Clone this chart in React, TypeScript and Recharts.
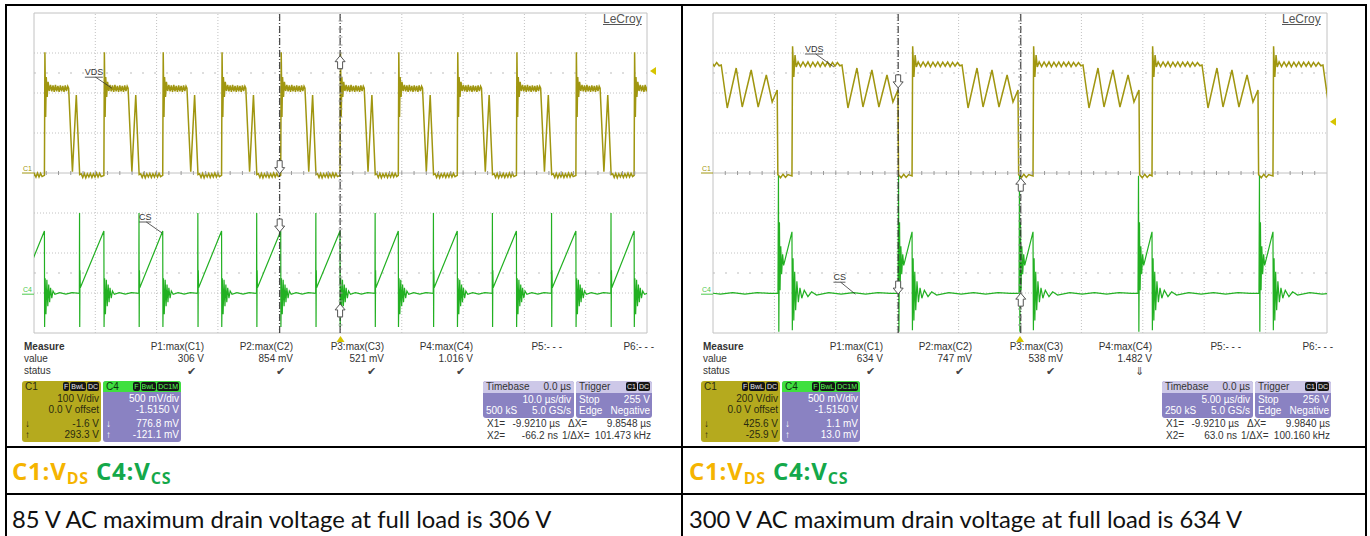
import React from 'react';
import { ComposedChart, Line, XAxis, YAxis, ReferenceLine, ReferenceDot } from 'recharts';

// ---- 85 V AC shot: 10 us/div, C1 100 V/div, C4 500 mV/div (offset -1.515 V) ----
// turn-off edges (VDS rising), us
const lowEdges = [-57.93, -48.3, -38.6, -29.0, -19.4, -9.75, -0.08, 9.43, 19.05, 28.7, 38.4, 47.9];
// one switching cycle: offsets from the edge (us) and volts
const lowVdsOffs = [
  0, 0.08, 0.2, 0.3, 0.45, 0.6, 0.8,
  1.0, 1.2, 1.4, 1.6, 1.8, 2.0, 2.2, 2.4, 2.6, 2.8, 3.0, 3.2, 3.4, 3.6, 3.8,
  3.95, 4.57, 5.2, 5.75,
  6.0, 6.25, 6.5, 6.75, 7.0, 7.25, 7.5, 7.75, 8.0, 8.25, 8.5, 8.75, 9.0, 9.25,
];
const lowVdsVals = [
  -6, 302, 140, 240, 190, 228, 205,
  220, 204, 219, 203, 220, 204, 218, 203, 219, 204, 218, 203, 219, 205, 217,
  212, 3, 195, -4,
  -2, -11, -1, -12, -2, -10, -1, -11, -2, -10, 0, -10, -1, -9,
];
const lowCsOffs = [0, 0.03, 0.12, 0.25, 0.4, 0.55, 0.7, 0.85, 1.0, 1.2, 1.4, 1.7, 2.5, 3.5, 4.5, 5.7, 5.73, 5.76, 5.8, 5.85];
const lowCsVals = [0.79, -0.41, 0.2, -0.25, 0.18, -0.15, 0.12, -0.1, 0.08, -0.05, 0.04, 0.0, 0.02, 0.0, 0.02, 0.01, 1.016, -0.41, 0.3, 0.08];

// ---- 300 V AC shot: 5 us/div, C1 200 V/div, C4 500 mV/div ----
const highEdges = [-28.4, -18.57, -8.79, 1.06, 10.75, 20.6];
const highVdsOffs = [
  0, 0.05, 0.15, 0.25, 0.35,
  0.5, 0.7, 0.9, 1.1, 1.3, 1.5, 1.7, 1.9, 2.1, 2.3, 2.5, 2.7, 2.9, 3.1, 3.3, 3.5, 3.7, 3.9,
  4.07, 4.56, 5.29, 5.78, 6.51, 7.08, 7.74, 8.22, 8.63,
  8.68, 8.9, 9.1, 9.3, 9.5,
];
const highVdsVals = [
  -15, 634, 480, 590, 530,
  556, 532, 555, 533, 556, 531, 554, 533, 555, 532, 554, 534, 555, 532, 553, 534, 552, 536,
  540, 325, 525, 330, 515, 330, 490, 355, 415,
  -8, -24, -6, -22, -8,
];
const highCsOffs = [-1.14, -1.1, -1.07, -1.02, -0.97, -0.91, -0.84, -0.76, -0.68, -0.58, 0, 0.03, 0.09, 0.15, 0.22, 0.3, 0.4, 0.52, 0.65, 0.8, 1.0, 1.3, 1.6, 2.0, 3.0, 4.0, 5.0, 6.0, 7.0, 8.0];
const highCsVals = [0.01, 1.48, -0.47, 0.9, 0.05, 0.6, 0.25, 0.5, 0.36, 0.42, 0.78, -0.45, 0.45, -0.33, 0.28, -0.2, 0.16, -0.1, 0.08, -0.05, 0.05, -0.03, 0.03, -0.01, 0.02, 0.0, 0.02, 0.0, 0.02, 0.01];

const headers = ['P1:max(C1)', 'P2:max(C2)', 'P3:max(C3)', 'P4:max(C4)', 'P5:- - -', 'P6:- - -'];

const lowValues = ['306 V', '854 mV', '521 mV', '1.016 V', '', ''];
const lowStatus = ['\u2714', '\u2714', '\u2714', '\u2714', '', ''];
const lowC1Box = ['100 V/div', '0.0 V offset', '-1.6 V', '293.3 V'];
const lowC4Box = ['500 mV/div', '-1.5150 V', '776.8 mV', '-121.1 mV'];
const lowTimebase = ['0.0 \u00b5s', '10.0 \u00b5s/div', '500 kS', '5.0 GS/s'];
const lowTrigger = ['255 V', 'Negative'];
const lowCursorText = ['-9.9210 \u00b5s', '9.8548 \u00b5s', '-66.2 ns', '101.473 kHz'];

const highValues = ['634 V', '747 mV', '538 mV', '1.482 V', '', ''];
const highStatus = ['\u2714', '\u2714', '\u2714', '\u21d3', '', ''];
const highC1Box = ['200 V/div', '0.0 V offset', '425.6 V', '-25.9 V'];
const highC4Box = ['500 mV/div', '-1.5150 V', '1.1 mV', '13.0 mV'];
const highTimebase = ['0.0 \u00b5s', '5.00 \u00b5s/div', '250 kS', '5.0 GS/s'];
const highTrigger = ['256 V', 'Negative'];
const highCursorText = ['-9.9210 \u00b5s', '9.9840 \u00b5s', '63.0 ns', '100.160 kHz'];

type Pt = { t: number; v: number };
const buildTrace = (edges: number[], offs: number[], vals: number[]): Pt[] =>
  edges.flatMap((e) => offs.map((o, i) => ({ t: Math.round((e + o) * 1000) / 1000, v: vals[i] })));

const lowScope = {
  tMin: -50, tMax: 50, plotW: 613,
  c1Dom: [-400, 400], c4Dom: [-0.485, 3.515],
  vds: buildTrace(lowEdges, lowVdsOffs, lowVdsVals),
  cs: buildTrace(lowEdges, lowCsOffs, lowCsVals),
  x1: -9.921, x2: -0.0662,
  c1Read: [-1.6, 293.3], c4Read: [0.7768, -0.1211],
  trig: 255,
  vdsTag: { t: -37.3, v: 212, dx: -27, dy: -11 },
  csTag: { t: -29.1, v: 0.765, dx: -23, dy: -11 },
};

const highScope = {
  tMin: -25, tMax: 25, plotW: 614,
  c1Dom: [-800, 800], c4Dom: [-0.485, 3.515],
  vds: buildTrace(highEdges, highVdsOffs, highVdsVals),
  cs: buildTrace(highEdges, highCsOffs, highCsVals),
  x1: -9.921, x2: 0.063,
  c1Read: [425.6, -25.9], c4Read: [0.0011, 0.013],
  trig: 256,
  vdsTag: { t: -15.15, v: 530, dx: -29, dy: -13 },
  csTag: { t: -13.4, v: 0, dx: -22, dy: -12 },
};

const W = 680;
const H = 345;
const C1_COLOR = '#a09610';
const C4_COLOR = '#22b022';
const GRID = '#c2c2c2';

const arrow = (dir: 'up' | 'down') => (p: any) => {
  const { cx, cy } = p;
  const s = dir === 'down' ? -1 : 1;
  const pts = [
    [cx, cy], [cx - 5, cy + 6 * s], [cx - 2.5, cy + 6 * s], [cx - 2.5, cy + 13 * s],
    [cx + 2.5, cy + 13 * s], [cx + 2.5, cy + 6 * s], [cx + 5, cy + 6 * s],
  ].map((q) => q.join(',')).join(' ');
  return <polygon points={pts} fill="#fff" stroke="#555" strokeWidth={1} />;
};

const tag = (label: string, dx: number, dy: number, w: number) => (p: any) => {
  const { cx, cy } = p;
  return (
    <g>
      <line x1={cx + dx + w * 0.6} y1={cy + dy} x2={cx} y2={cy} stroke="#333" strokeWidth={0.8} />
      <line x1={cx + dx} y1={cy + dy} x2={cx + dx + w} y2={cy + dy} stroke="#333" strokeWidth={0.8} />
      <text x={cx + dx} y={cy + dy - 2} fontSize={9} fill="#333" fontFamily="Liberation Sans, Arial">{label}</text>
    </g>
  );
};

const chanLabel = (label: string, color: string) => (p: any) => (
  <g>
    <line x1={p.cx - 12} y1={p.cy} x2={p.cx} y2={p.cy} stroke={color} strokeWidth={1} />
    <text x={p.cx - 11} y={p.cy - 2} fontSize={7} fill={color} fontFamily="Liberation Sans, Arial">{label}</text>
  </g>
);

function Scope({ s }: { s: typeof lowScope }) {
  const divT = (s.tMax - s.tMin) / 10;
  const divV = (s.c1Dom[1] - s.c1Dom[0]) / 8;
  const xGrid = Array.from({ length: 11 }, (_, i) => s.tMin + i * divT);
  const yGrid = Array.from({ length: 9 }, (_, i) => s.c1Dom[0] + i * divV);
  const hTicks = Array.from({ length: 49 }, (_, i) => s.tMin + ((i + 1) * divT) / 5);
  const vTicks = Array.from({ length: 39 }, (_, i) => s.c1Dom[0] + ((i + 1) * divV) / 5);
  const edgeX = (t: number) => t === s.tMin || t === s.tMax;
  const edgeY = (v: number) => v === s.c1Dom[0] || v === s.c1Dom[1];
  return (
    <ComposedChart
      width={W}
      height={H}
      margin={{ top: 13, left: 34, right: W - 34 - s.plotW, bottom: H - 13 - 320 }}
    >
      <XAxis type="number" dataKey="t" domain={[s.tMin, s.tMax]} allowDataOverflow hide />
      <YAxis yAxisId="c1" type="number" domain={s.c1Dom} allowDataOverflow hide />
      <YAxis yAxisId="c4" type="number" domain={s.c4Dom} allowDataOverflow hide />

      {xGrid.map((t) => (
        <ReferenceLine key={'gx' + t} yAxisId="c1" x={t} stroke={GRID}
          strokeDasharray={edgeX(t) ? undefined : '1 2'} />
      ))}
      {yGrid.map((v) => (
        <ReferenceLine key={'gy' + v} yAxisId="c1" y={v} stroke={GRID}
          strokeDasharray={edgeY(v) || v === 0 ? undefined : '1 2'} />
      ))}
      <ReferenceLine yAxisId="c1" y={divV * 2.5} stroke="#bdbdbd" strokeDasharray="2 10" />
      <ReferenceLine yAxisId="c1" y={-divV * 2.5} stroke="#bdbdbd" strokeDasharray="2 10" />
      {hTicks.map((t) => (
        <ReferenceDot key={'ht' + t} yAxisId="c1" x={t} y={0} r={0} ifOverflow="visible"
          shape={(p: any) => <line x1={p.cx} x2={p.cx} y1={p.cy - 2} y2={p.cy + 2} stroke="#9a9a9a" />} />
      ))}
      {vTicks.map((v) => (
        <ReferenceDot key={'vt' + v} yAxisId="c1" x={0} y={v} r={0} ifOverflow="visible"
          shape={(p: any) => <line x1={p.cx - 2} x2={p.cx + 2} y1={p.cy} y2={p.cy} stroke="#9a9a9a" />} />
      ))}

      <Line data={s.vds} dataKey="v" yAxisId="c1" type="linear" stroke={C1_COLOR} strokeWidth={1.5}
        dot={false} isAnimationActive={false} />
      <Line data={s.cs} dataKey="v" yAxisId="c4" type="linear" stroke={C4_COLOR} strokeWidth={1.2}
        dot={false} isAnimationActive={false} />

      <ReferenceLine yAxisId="c1" x={s.x1} stroke="#333" strokeWidth={1.1} strokeDasharray="7 2 1 2" />
      <ReferenceLine yAxisId="c1" x={s.x2} stroke="#333" strokeWidth={1.1} strokeDasharray="7 2 1 2" />

      <ReferenceDot yAxisId="c1" x={s.x1} y={s.c1Read[0]} r={0} ifOverflow="visible" shape={arrow('down')} />
      <ReferenceDot yAxisId="c1" x={s.x2} y={s.c1Read[1]} r={0} ifOverflow="visible" shape={arrow('up')} />
      <ReferenceDot yAxisId="c4" x={s.x1} y={s.c4Read[0]} r={0} ifOverflow="visible" shape={arrow('down')} />
      <ReferenceDot yAxisId="c4" x={s.x2} y={s.c4Read[1]} r={0} ifOverflow="visible" shape={arrow('up')} />

      <ReferenceDot yAxisId="c1" x={s.vdsTag.t} y={s.vdsTag.v} r={0} ifOverflow="visible"
        shape={tag('VDS', s.vdsTag.dx, s.vdsTag.dy, 18)} />
      <ReferenceDot yAxisId="c4" x={s.csTag.t} y={s.csTag.v} r={0} ifOverflow="visible"
        shape={tag('CS', s.csTag.dx, s.csTag.dy, 12)} />

      <ReferenceDot yAxisId="c1" x={s.tMin} y={0} r={0} ifOverflow="visible" shape={chanLabel('C1', C1_COLOR)} />
      <ReferenceDot yAxisId="c4" x={s.tMin} y={0} r={0} ifOverflow="visible" shape={chanLabel('C4', '#4cc84c')} />

      <ReferenceDot yAxisId="c1" x={s.tMax} y={s.trig} r={0} ifOverflow="visible"
        shape={(p: any) => <polygon points={`${p.cx + 3},${p.cy} ${p.cx + 9},${p.cy - 4} ${p.cx + 9},${p.cy + 4}`} fill="#d6c400" />} />
      <ReferenceDot yAxisId="c1" x={0} y={s.c1Dom[0]} r={0} ifOverflow="visible"
        shape={(p: any) => <polygon points={`${p.cx},${p.cy + 3} ${p.cx - 4},${p.cy + 9} ${p.cx + 4},${p.cy + 9}`} fill="#d6c400" />} />
    </ComposedChart>
  );
}

const mFont = '"Liberation Sans", Arial, sans-serif';

const T = ({ x, r, y, children, st }: any) => (
  <div
    style={{
      position: 'absolute', top: y, whiteSpace: 'nowrap', lineHeight: '12px', fontSize: 10,
      ...(r !== undefined ? { left: r - 160, width: 160, textAlign: 'right' } : { left: x }),
      ...st,
    }}
  >
    {children}
  </div>
);

const Badge = ({ children, fg = '#e8e8e8' }: any) => (
  <span style={{ background: '#151515', color: fg, fontSize: 7, lineHeight: '9px', height: 9, padding: '0 1px',
    borderRadius: 2, display: 'block' }}>{children}</span>
);

const Badges = ({ items, fg }: { items: string[]; fg?: string }) => (
  <div style={{ position: 'absolute', right: 2, top: 1, display: 'flex', gap: 1, fontSize: 7, lineHeight: '9px' }}>
    {items.map((b) => <Badge key={b} fg={fg}>{b}</Badge>)}
  </div>
);

const colRight = [204, 293, 384, 473, 562, 654];

function Measure({ values, status, c1, c4, tb, trig, cur }: any) {
  const lavender = '#8a82c2';
  const light = '#cdc8e8';
  return (
    <div style={{ position: 'absolute', left: 0, top: 0, width: W, height: 446, fontFamily: mFont, color: '#333' }}>
      <T x={24} y={341} st={{ fontWeight: 'bold' }}>Measure</T>
      <T x={24} y={353}>value</T>
      <T x={24} y={365}>status</T>
      {headers.map((h, i) => <T key={h} r={colRight[i]} y={341}>{h}</T>)}
      {values.map((v: string, i: number) => <T key={'v' + i} r={colRight[i]} y={353}>{v}</T>)}
      {status.map((v: string, i: number) => <T key={'s' + i} r={colRight[i] - 8} y={365} st={{ color: '#444', fontSize: 11 }}>{v}</T>)}

      {/* C1 channel box */}
      <div style={{ position: 'absolute', left: 22, top: 381, width: 79, height: 61, background: '#b5aa1e', borderRadius: 3, color: '#2a2a10' }}>
        <T x={3} y={0}>C1</T>
        <Badges items={['F', 'BwL', 'DC']} />
        <T r={77} y={12}>{c1[0]}</T>
        <T r={77} y={23}>{c1[1]}</T>
        <T x={3} y={37}>{'\u2193'}</T>
        <T r={77} y={37}>{c1[2]}</T>
        <T x={3} y={48}>{'\u2191'}</T>
        <T r={77} y={48}>{c1[3]}</T>
      </div>

      {/* C4 channel box */}
      <div style={{ position: 'absolute', left: 103, top: 381, width: 78, height: 61, background: lavender, borderRadius: 3, color: '#fff', overflow: 'hidden' }}>
        <div style={{ position: 'absolute', left: 0, top: 0, width: 78, height: 11, background: '#3fe03f' }} />
        <T x={3} y={0} st={{ color: '#113311' }}>C4</T>
        <Badges items={['F', 'BwL', 'DC1M']} fg="#5f5" />
        <T r={76} y={12}>{c4[0]}</T>
        <T r={76} y={23}>{c4[1]}</T>
        <T x={3} y={37}>{'\u2193'}</T>
        <T r={76} y={37}>{c4[2]}</T>
        <T x={3} y={48}>{'\u2191'}</T>
        <T r={76} y={48}>{c4[3]}</T>
      </div>

      {/* Timebase box */}
      <div style={{ position: 'absolute', left: 483, top: 381, width: 91, height: 37, background: lavender, borderRadius: 3, color: '#fff', overflow: 'hidden' }}>
        <div style={{ position: 'absolute', left: 0, top: 0, width: 91, height: 12, background: light }} />
        <T x={3} y={0} st={{ color: '#333' }}>Timebase</T>
        <T r={88} y={0} st={{ color: '#333' }}>{tb[0]}</T>
        <T r={88} y={13}>{tb[1]}</T>
        <T x={3} y={24}>{tb[2]}</T>
        <T r={88} y={24}>{tb[3]}</T>
      </div>

      {/* Trigger box */}
      <div style={{ position: 'absolute', left: 576, top: 381, width: 76, height: 37, background: lavender, borderRadius: 3, color: '#fff', overflow: 'hidden' }}>
        <div style={{ position: 'absolute', left: 0, top: 0, width: 76, height: 12, background: light }} />
        <T x={3} y={0} st={{ color: '#333' }}>Trigger</T>
        <Badges items={['C1', 'DC']} />
        <T x={3} y={13}>Stop</T>
        <T r={74} y={13}>{trig[0]}</T>
        <T x={3} y={24}>Edge</T>
        <T r={74} y={24}>{trig[1]}</T>
      </div>

      <T x={487} y={418}>X1=</T>
      <T r={560} y={418}>{cur[0]}</T>
      <T x={568} y={418}>{'\u0394X='}</T>
      <T r={651} y={418}>{cur[1]}</T>
      <T x={487} y={430}>X2=</T>
      <T r={558} y={430}>{cur[2]}</T>
      <T x={562} y={430}>{'1/\u0394X='}</T>
      <T r={651} y={430}>{cur[3]}</T>

      <div style={{ position: 'absolute', left: 603, top: 12, fontSize: 12, color: '#555', textDecoration: 'underline', fontFamily: mFont }}>LeCroy</div>
    </div>
  );
}

function Panel({ ox, s, m }: any) {
  return (
    <div style={{ position: 'absolute', left: ox, top: 0, width: W, height: 446 }}>
      <div style={{ position: 'absolute', left: 0, top: 0 }}>
        <Scope s={s} />
      </div>
      <Measure {...m} />
    </div>
  );
}

const legendStyle: React.CSSProperties = { position: 'absolute', top: 456, fontFamily: '"Open Sans", sans-serif', fontWeight: 'bold', fontSize: 24, lineHeight: '30px', letterSpacing: 0.8, whiteSpace: 'nowrap' };
const subStyle: React.CSSProperties = { fontSize: 16, position: 'relative', top: 4 };
const captionStyle: React.CSSProperties = { position: 'absolute', top: 503, fontFamily: 'Lato, sans-serif', fontSize: 23.8, lineHeight: '32px', color: '#111', whiteSpace: 'nowrap' };

const Legend = ({ x }: { x: number }) => (
  <div style={{ ...legendStyle, left: x }}>
    <span style={{ color: '#f5b400' }}>C1:V<span style={subStyle}>DS</span></span>{' '}
    <span style={{ color: '#14a84a' }}>C4:V<span style={subStyle}>CS</span></span>
  </div>
);

export default function App() {
  return (
    <div style={{ position: 'absolute', left: 0, top: 0, width: 1370, height: 536, background: '#fff', overflow: 'hidden' }}>
      <Panel ox={0} s={lowScope} m={{ values: lowValues, status: lowStatus, c1: lowC1Box, c4: lowC4Box, tb: lowTimebase, trig: lowTrigger, cur: lowCursorText }} />
      <Panel ox={679} s={highScope} m={{ values: highValues, status: highStatus, c1: highC1Box, c4: highC4Box, tb: highTimebase, trig: highTrigger, cur: highCursorText }} />

      {/* table rules */}
      <div style={{ position: 'absolute', left: 5, top: 4, width: 1362, height: 560, border: '2px solid #000', boxSizing: 'border-box' }} />
      <div style={{ position: 'absolute', left: 681, top: 4, width: 2, height: 560, background: '#000' }} />
      <div style={{ position: 'absolute', left: 5, top: 446, width: 1362, height: 1.5, background: '#000' }} />
      <div style={{ position: 'absolute', left: 5, top: 493, width: 1362, height: 1.5, background: '#000' }} />

      <Legend x={12} />
      <Legend x={689} />
      <div style={{ ...captionStyle, left: 12 }}>85 V AC maximum drain voltage at full load is 306 V</div>
      <div style={{ ...captionStyle, left: 689 }}>300 V AC maximum drain voltage at full load is 634 V</div>
    </div>
  );
}
